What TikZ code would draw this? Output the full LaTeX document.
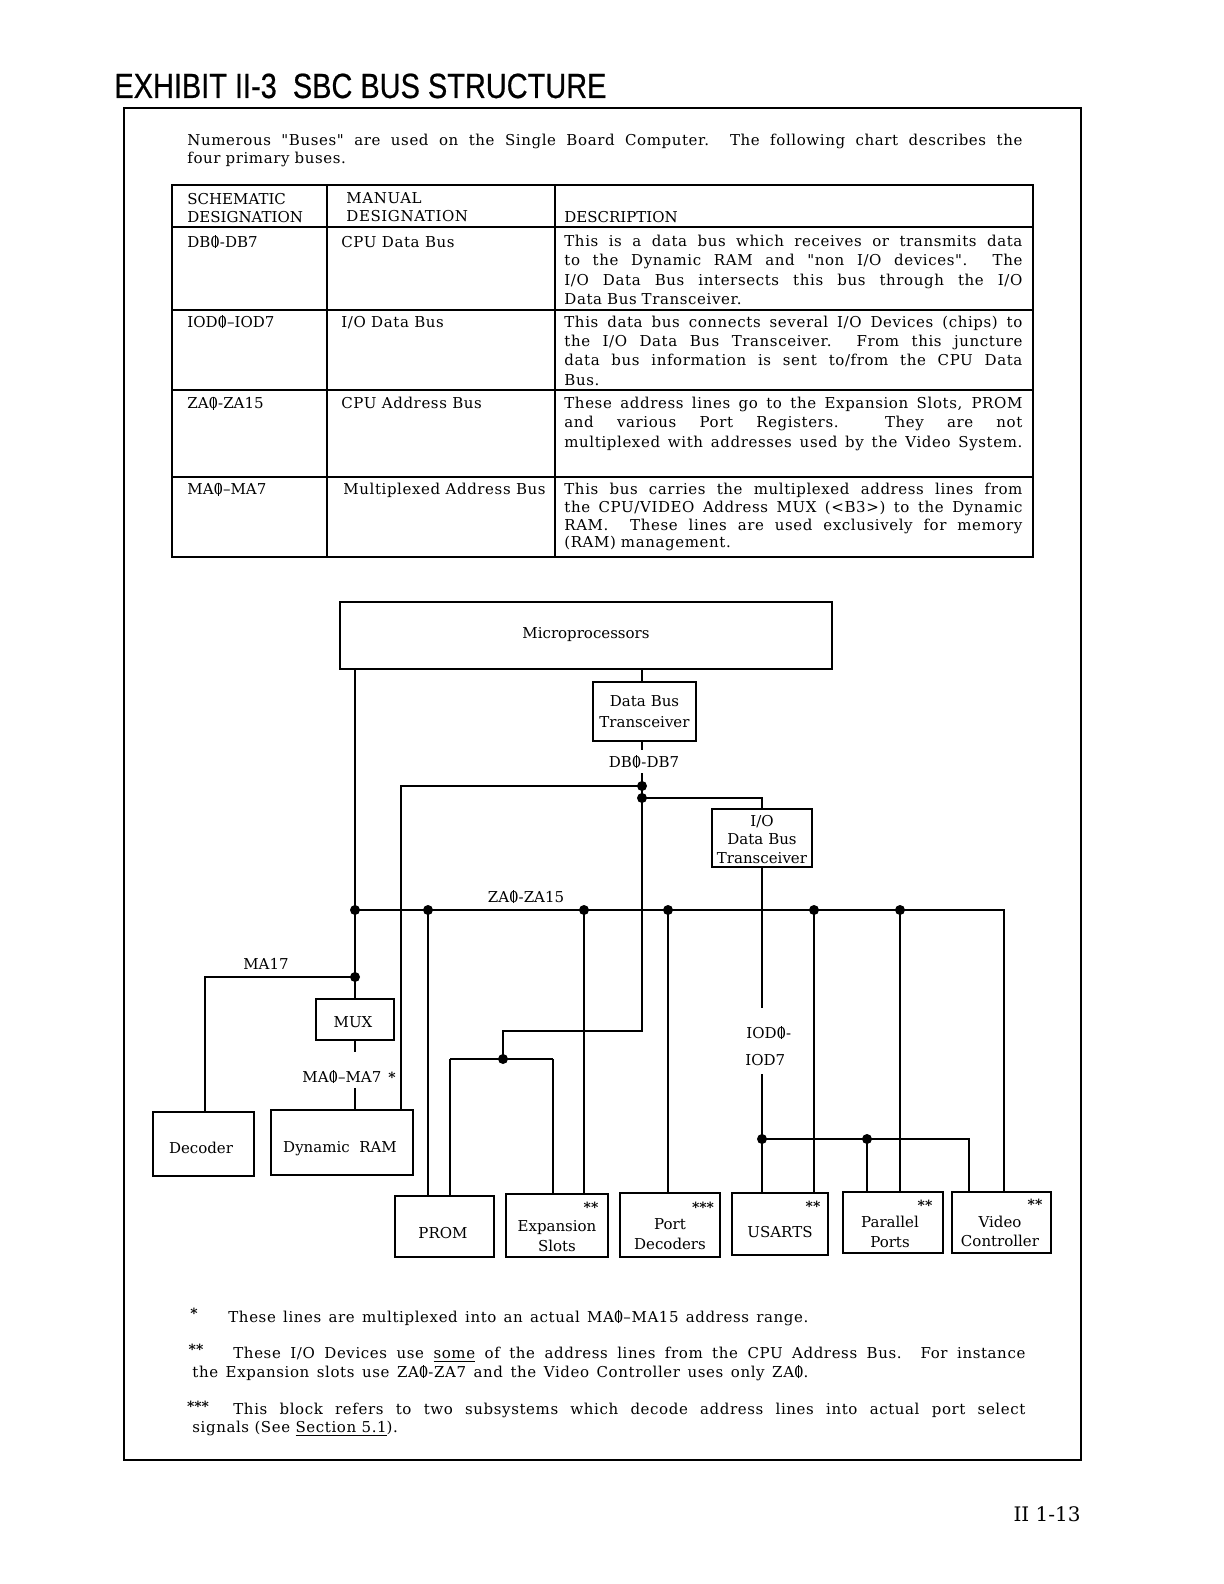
\documentclass[tikz,border=0pt]{standalone}
\usepackage{graphicx}
\usepackage{fontspec}
\newfontfamily\tw{DejaVu Serif}
\newfontfamily\twl[LetterSpace=4]{DejaVu Serif}
\newfontfamily\hv[FakeBold=0.6]{Liberation Sans}
\newcommand\tabfont[1]{\tw\fontsize{7.5pt}{#1}\selectfont}
\newcommand\tabfontl[1]{\twl\fontsize{7.5pt}{#1}\selectfont}
\newcommand\zs{\ooalign{0\cr\hidewidth\rule[-0.08em]{0.06em}{0.86em}\hidewidth\cr}}
\newcommand\jl[2]{\makebox[#1][s]{\spaceskip=0pt\xspaceskip=0pt\relax #2}}
\tikzset{
  ln/.style={line width=1pt},
  blk/.style={draw, line width=1pt, inner sep=0pt, rectangle},
  txt/.style={inner sep=0pt, font={\tabfont{9.7pt}}},
  ttxt/.style={inner sep=0pt, font={\tabfontl{9.7pt}}},
  stars/.style={inner sep=0pt, font={\tw\bfseries\fontsize{7pt}{8pt}\selectfont}, anchor=base},
  dotr/.style={fill=black}
}
\begin{document}
\begin{tikzpicture}[x=0.5pt,y=-0.5pt]
\fill[white] (0,0) rectangle (1224,1584);
\useasboundingbox (0,0) rectangle (1224,1584);

% title and frame
\node[inner sep=0pt, anchor=base west, font={\hv\fontsize{17.5pt}{20pt}\selectfont}] (title) at (114,98)
  {\resizebox{246pt}{\height}{EXHIBIT II-3\ \ SBC BUS STRUCTURE}};
\draw[line width=1.1pt] (124,108) rectangle (1081,1460);

% intro
\node[ttxt, anchor=base west, text width=417.5pt, align=left, font={\tabfontl{8.8pt}}] (intro) at (187,145.7)
  {\jl{417.5pt}{Numerous "Buses" are used on the Single Board Computer.\ \ The following chart describes the}\\
   four primary buses.};

% table
\draw[ln] (172,185) rectangle (1033,557);
\draw[ln] (327,185) -- (327,557);
\draw[ln] (555,185) -- (555,557);
\draw[ln] (172,227) -- (1033,227);
\draw[ln] (172,310) -- (1033,310);
\draw[ln] (172,390) -- (1033,390);
\draw[ln] (172,477) -- (1033,477);

\node[txt, anchor=base west, text width=70pt, align=left, font={\tabfont{9.25pt}}] (hsch) at (187,204) {SCHEMATIC\\DESIGNATION};
\node[ttxt, anchor=base west, text width=90pt, align=left, font={\tabfontl{9.25pt}}] (hman) at (346,203.5) {MANUAL\\DESIGNATION};
\node[txt, anchor=base west] (hdesc) at (564,222) {DESCRIPTION};

\node[txt, anchor=base west] (s1) at (187,247) {DB\zs-DB7};
\node[ttxt, anchor=base west] (m1t) at (341,247) {CPU Data Bus};
\node[ttxt, anchor=base west, text width=229pt, align=left] (dsc1) at (564,246.5)
  {\jl{229pt}{This is a data bus which receives or transmits data}\\
   \jl{229pt}{to the Dynamic RAM and "non I/O devices".\ \ The}\\
   \jl{229pt}{I/O Data Bus intersects this bus through the I/O}\\
   Data Bus Transceiver.};

\node[txt, anchor=base west] (s2) at (187,327) {IOD\zs–IOD7};
\node[ttxt, anchor=base west] (m2t) at (341,327) {I/O Data Bus};
\node[ttxt, anchor=base west, text width=229pt, align=left] (dsc2) at (564,327)
  {\jl{229pt}{This data bus connects several I/O Devices (chips) to}\\
   \jl{229pt}{the I/O Data Bus Transceiver.\ \ From this juncture}\\
   \jl{229pt}{data bus information is sent to/from the CPU Data}\\
   Bus.};

\node[txt, anchor=base west] (s3) at (187,408.5) {ZA\zs-ZA15};
\node[ttxt, anchor=base west] (m3t) at (341,408.5) {CPU Address Bus};
\node[ttxt, anchor=base west, text width=229pt, align=left] (dsc3) at (564,408.5)
  {\jl{229pt}{These address lines go to the Expansion Slots, PROM}\\
   \jl{229pt}{and various Port Registers.\ \ They are not}\\
   \jl{229pt}{multiplexed with addresses used by the Video System.}};

\node[txt, anchor=base west] (s4) at (187,494.5) {MA\zs–MA7};
\node[ttxt, anchor=base west] (m4t) at (343,494.5) {Multiplexed Address Bus};
\node[ttxt, anchor=base west, text width=229pt, align=left, font={\tabfontl{8.9pt}}] (dsc4) at (564,494.5)
  {\jl{229pt}{This bus carries the multiplexed address lines from}\\
   \jl{229pt}{the CPU/VIDEO Address MUX (<B3>) to the Dynamic}\\
   \jl{229pt}{RAM.\ \ These lines are used exclusively for memory}\\
   (RAM) management.};

% ---------------- diagram boxes
\node[blk, minimum width=246pt, minimum height=33.5pt] (micro) at (586,635.5) {};
\node[blk, minimum width=51.5pt, minimum height=29.5pt] (dbt) at (644.5,711.5) {};
\node[blk, minimum width=50pt, minimum height=29pt] (iodbt) at (762,838) {};
\node[blk, minimum width=39pt, minimum height=20.5pt] (mux) at (355,1019.5) {};
\node[blk, minimum width=50.5pt, minimum height=32pt] (decoder) at (203.5,1144) {};
\node[blk, minimum width=71pt, minimum height=32.5pt] (dram) at (342,1142.5) {};
\node[blk, minimum width=49.5pt, minimum height=30.5pt] (prom) at (444.5,1226.5) {};
\node[blk, minimum width=51pt, minimum height=31.5pt] (exp) at (557,1225.5) {};
\node[blk, minimum width=50pt, minimum height=32pt] (portdec) at (670,1225) {};
\node[blk, minimum width=48pt, minimum height=31pt] (usarts) at (780,1224) {};
\node[blk, minimum width=50pt, minimum height=30.5pt] (parallel) at (893,1222.5) {};
\node[blk, minimum width=49.5pt, minimum height=30.5pt] (video) at (1001.5,1222.5) {};

% box texts
\node[txt, anchor=base] (micro-t) at (586,638) {Microprocessors};
\node[txt, anchor=base, text width=51.5pt, align=center, font={\tabfont{10.85pt}}] (dbt-t) at (644.5,706) {Data Bus\\Transceiver};
\node[txt, anchor=base, text width=50pt, align=center, font={\tabfont{9.3pt}}] (iodbt-t) at (762,826) {I/O\\Data Bus\\Transceiver};
\node[txt, anchor=base] (mux-t) at (353,1027.5) {MUX};
\node[txt, anchor=base] (decoder-t) at (201,1153) {Decoder};
\node[txt, anchor=base] (dram-t) at (340,1152.5) {Dynamic\ \ RAM};
\node[txt, anchor=base] (prom-t) at (443,1238) {PROM};
\node[txt, anchor=base, text width=51pt, align=center, font={\tabfont{10pt}}] (exp-t) at (557,1231) {Expansion\\Slots};
\node[txt, anchor=base, text width=50pt, align=center, font={\tabfont{9.9pt}}] (portdec-t) at (670,1229.5) {Port\\Decoders};
\node[txt, anchor=base] (usarts-t) at (780,1237) {USARTS};
\node[txt, anchor=base, text width=50pt, align=center, font={\tabfont{10pt}}] (parallel-t) at (890,1227.5) {Parallel\\Ports};
\node[txt, anchor=base, text width=49.5pt, align=center, font={\tabfont{9.7pt}}] (video-t) at (1000,1227) {Video\\Controller};

% stars
\node[stars] (exp-s) at (591,1212) {**};
\node[stars] (portdec-s) at (703,1212) {***};
\node[stars] (usarts-s) at (813,1211) {**};
\node[stars] (parallel-s) at (925,1210) {**};
\node[stars] (video-s) at (1035,1209) {**};

% connector coordinates
\coordinate (d1) at (642,786);
\coordinate (d2) at (642,798);
\coordinate (dbl) at (401,786);
\coordinate (dbg1) at (642,750);
\coordinate (dbg2) at (642,773);
\coordinate (dbt1) at (642,1031);
\coordinate (dbt2) at (503,1031);
\coordinate (d3) at (503,1059);
\coordinate (pa) at (450,1059);
\coordinate (pb) at (553,1059);
\coordinate (z1) at (355,910);
\coordinate (z2) at (428,910);
\coordinate (z3) at (584,910);
\coordinate (z4) at (668,910);
\coordinate (z5) at (814,910);
\coordinate (z6) at (900,910);
\coordinate (zend) at (1004,910);
\coordinate (m1) at (355,977);
\coordinate (ma) at (205,977);
\coordinate (mg1) at (355,1052);
\coordinate (mg2) at (355,1088);
\coordinate (ig1) at (762,1008);
\coordinate (ig2) at (762,1074);
\coordinate (i1) at (762,1139);
\coordinate (i2) at (867,1139);
\coordinate (iend) at (969,1139);

% connectors
\draw[ln] (micro.south -| d1) -- (dbt.north -| d1);
\draw[ln] (dbt.south -| d1) -- (dbg1);
\draw[ln] (dbg2) -- (d1) -- (dbl) -- (dram.north -| dbl);
\draw[ln] (d1) -- (d2) -- (dbt1) -- (dbt2) -- (d3);
\draw[ln] (d2) -| (iodbt.north);
\draw[ln] (pa) -- (pb);
\draw[ln] (pa) -- (prom.north -| pa);
\draw[ln] (pb) -- (exp.north -| pb);
\draw[ln] (micro.south -| z1) -- (z1) -- (m1) -- (mux.north -| m1);
\draw[ln] (m1) -- (ma) -- (decoder.north -| ma);
\draw[ln] (mux.south -| mg1) -- (mg1);
\draw[ln] (mg2) -- (dram.north -| mg2);
\draw[ln] (z1) -- (zend) -- (video.north -| zend);
\draw[ln] (z2) -- (prom.north -| z2);
\draw[ln] (z3) -- (exp.north -| z3);
\draw[ln] (z4) -- (portdec.north -| z4);
\draw[ln] (z5) -- (usarts.north -| z5);
\draw[ln] (z6) -- (parallel.north -| z6);
\draw[ln] (iodbt.south -| ig1) -- (ig1);
\draw[ln] (ig2) -- (i1) -- (usarts.north -| i1);
\draw[ln] (i1) -- (iend) -- (video.north -| iend);
\draw[ln] (i2) -- (parallel.north -| i2);

\foreach \p in {d1,d2,d3,z1,z2,z3,z4,z5,z6,m1,i1,i2}
  \fill[dotr] (\p) circle (2.5pt);

% bus labels
\node[txt, anchor=base] (lbl-db) at (644,767) {DB\zs-DB7};
\node[txt, anchor=base] (lbl-za) at (526,902) {ZA\zs-ZA15};
\node[txt, anchor=base] (lbl-ma17) at (266,969) {MA17};
\node[txt, anchor=base west] (lbl-ma) at (302,1082) {MA\zs–MA7};
\node[stars] (lbl-mas) at (392,1082) {*};
\node[txt, anchor=base west] (lbl-iod1) at (746,1038) {IOD\zs-};
\node[txt, anchor=base west] (lbl-iod2) at (745,1065) {IOD7};

% footnotes
\node[stars] (fn1s) at (194,1318) {*};
\node[ttxt, anchor=base west] (fn1) at (228,1322) {\jl{290pt}{These lines are multiplexed into an actual MA\zs–MA15 address range.}};
\node[stars] (fn2s) at (196,1354) {**};
\node[ttxt, anchor=base west] (fn2) at (233,1358) {\jl{396pt}{These I/O Devices use \underline{some} of the address lines from the CPU Address Bus.\ \ For instance}};
\node[ttxt, anchor=base west] (fn2b) at (192,1377) {\jl{308pt}{the Expansion slots use ZA\zs-ZA7 and the Video Controller uses only ZA\zs.}};
\node[stars] (fn3s) at (198,1411) {***};
\node[ttxt, anchor=base west] (fn3) at (233,1414) {\jl{396pt}{This block refers to two subsystems which decode address lines into actual port select}};
\node[ttxt, anchor=base west] (fn3b) at (192,1432) {signals (See \underline{Section 5.1}).};

% page number
\node[inner sep=0pt, anchor=base east, font={\tw\fontsize{10pt}{12pt}\selectfont}] (pageno) at (1081,1521) {II\ 1-13};
\end{tikzpicture}
\end{document}
